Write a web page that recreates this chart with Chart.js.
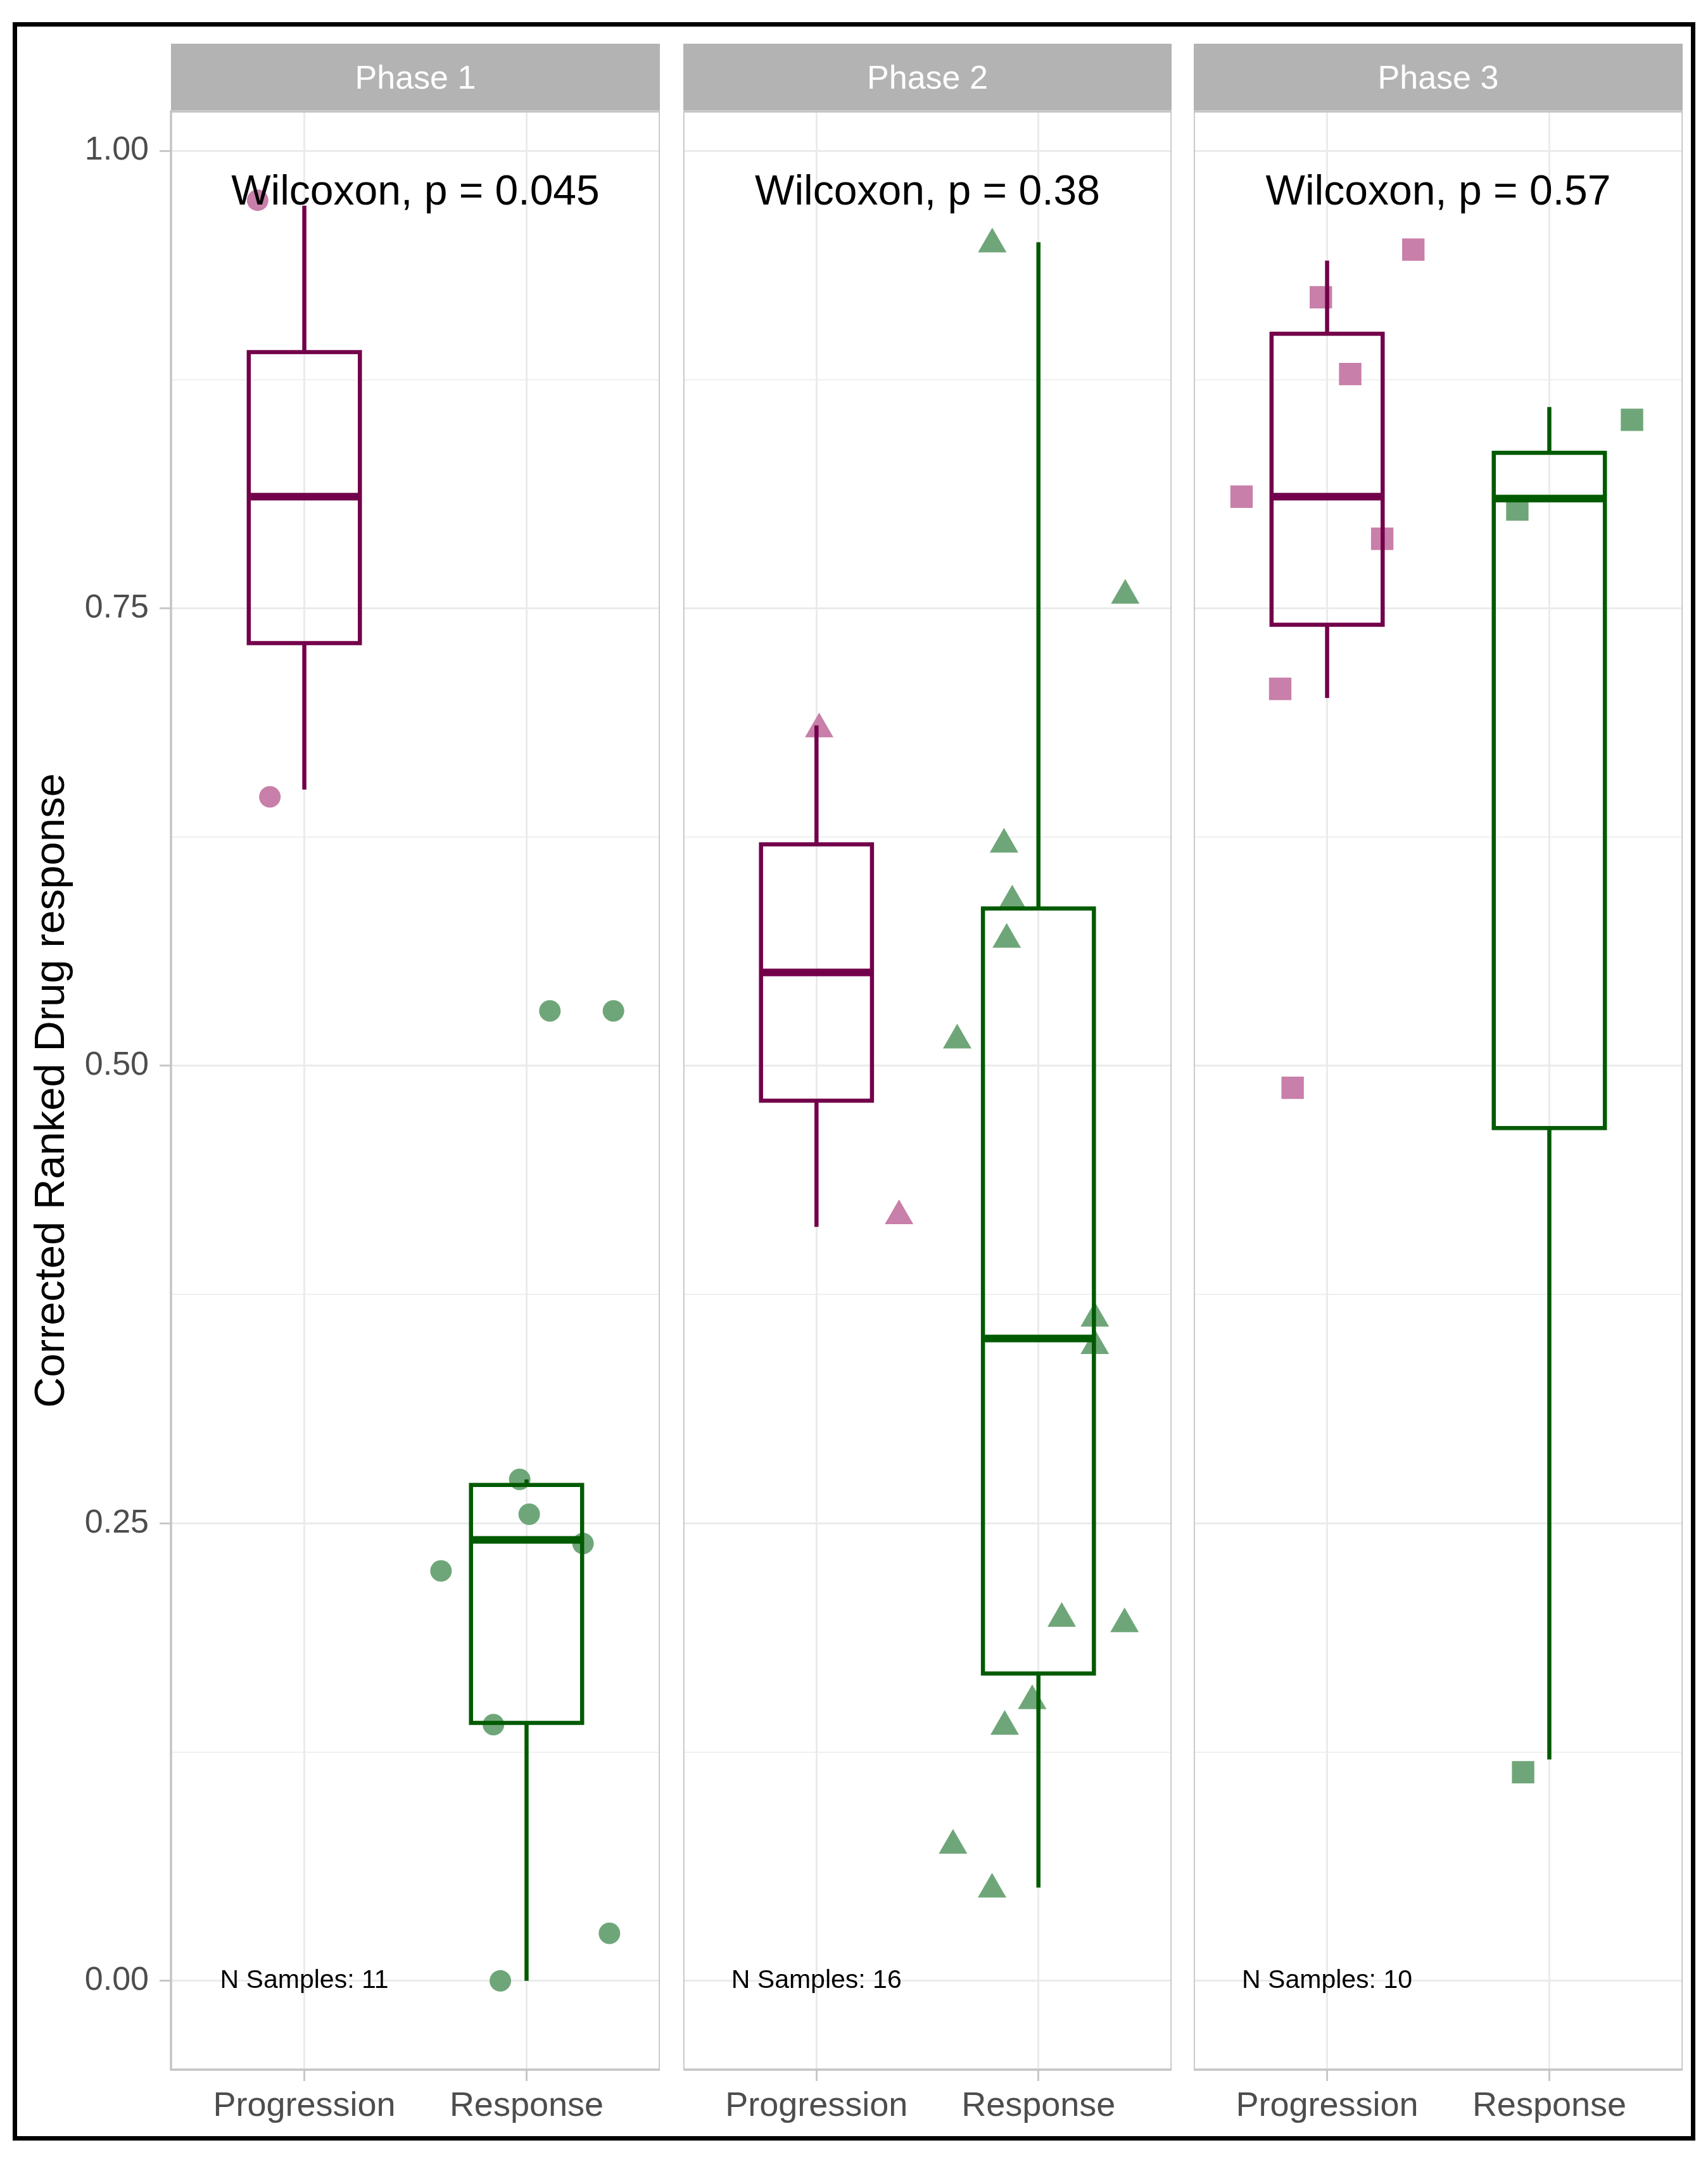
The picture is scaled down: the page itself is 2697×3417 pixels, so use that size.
<!DOCTYPE html>
<html lang="en">
<head>
  <meta charset="UTF-8" />
  <title>Corrected Ranked Drug response by Phase</title>
  <script src="https://cdn.jsdelivr.net/npm/chart.js"></script>
  <style>
    body { margin: 0; background: #fff; }
    #page { position: relative; width: 2697px; height: 3417px; background: #fff; overflow: hidden; }
    #frame { position: absolute; left: 20px; top: 35px; width: 2657px; height: 3345px; box-sizing: border-box; border: 7px solid #000; }
    canvas { position: absolute; top: 69px; }
    #panel1 { left: 30px; }
    #panel2 { left: 1079px; }
    #panel3 { left: 1885px; }
  </style>
</head>
<body>
<div id="page">
  <div id="frame"></div>
  <canvas id="panel1" width="1012" height="3299"></canvas>
  <canvas id="panel2" width="771" height="3299"></canvas>
  <canvas id="panel3" width="772" height="3299"></canvas>
</div>

<script>
  const FONT = '"Liberation Sans", Arial, Helvetica, sans-serif';

  const phases = ["Phase 1", "Phase 2", "Phase 3"];
  const groups = ["Progression", "Response"];
  const pValues = ["0.045", "0.38", "0.57"];
  const nSamples = [11, 16, 10];

  // y axis ticks
  const yMajorTicks = [0, 0.25, 0.5, 0.75, 1];
  const yMinorTicks = [0.125, 0.375, 0.625, 0.875];
  const yTickLabels = ["0.00", "0.25", "0.50", "0.75", "1.00"];

  // boxplot stats per phase: [lower whisker, Q1, median, Q3, upper whisker]
  const progressionBox = [
    [0.651, 0.731, 0.811, 0.890, 0.970],
    [0.412, 0.481, 0.551, 0.621, 0.686],
    [0.701, 0.741, 0.811, 0.900, 0.940]
  ];
  const responseBox = [
    [0.000, 0.141, 0.241, 0.271, 0.274],
    [0.051, 0.168, 0.351, 0.586, 0.950],
    [0.121, 0.466, 0.810, 0.835, 0.860]
  ];

  // jittered samples: x = group position + jitter, y = value
  const progressionX = [
    [0.790, 0.845],
    [1.012, 1.372],
    [1.388, 0.972, 1.104, 0.615, 1.248, 0.789, 0.845]
  ];
  const progressionY = [
    [0.973, 0.647],
    [0.684, 0.418],
    [0.946, 0.920, 0.878, 0.811, 0.788, 0.706, 0.488]
  ];
  const responseX = [
    [1.615, 1.969, 2.012, 1.851, 1.882, 2.105, 2.391, 2.254, 2.373],
    [1.792, 2.391, 1.845, 1.882, 1.857, 1.634, 2.254, 2.254, 2.105, 2.388, 1.972, 1.848, 1.615, 1.791],
    [2.372, 1.856, 1.882]
  ];
  const responseY = [
    [0.224, 0.274, 0.255, 0.140, 0.000, 0.530, 0.530, 0.239, 0.026],
    [0.949, 0.757, 0.621, 0.590, 0.569, 0.514, 0.362, 0.347, 0.198, 0.195, 0.153, 0.139, 0.074, 0.050],
    [0.853, 0.804, 0.114]
  ];

  const progressionLine = "#73004a";
  const responseLine = "#005a00";
  const progressionFill = "#c87fa9";
  const responseFill = "#6fa679";
  const shapes = ["circle", "triangle", "rect"];
  const radii = [17, 26, 25];

  Chart.defaults.font.family = FONT;

  const isMajor = ctx => ctx.tick && yMajorTicks.includes(ctx.tick.value);

  // grey facet strip behind the title
  const stripPlugin = {
    id: "strip",
    beforeDraw(chart) {
      const { ctx, chartArea, titleBlock } = chart;
      ctx.save();
      ctx.fillStyle = "#b3b3b3";
      ctx.fillRect(chartArea.left, titleBlock.top, chartArea.right - chartArea.left, titleBlock.bottom - titleBlock.top - 2);
      ctx.restore();
    }
  };

  // panel border + annotations
  const notesPlugin = {
    id: "notes",
    afterDraw(chart, args, opts) {
      const { ctx, chartArea, scales: { x, y } } = chart;
      ctx.save();
      ctx.strokeStyle = "#c4c4c4";
      ctx.lineWidth = 3.5;
      ctx.strokeRect(chartArea.left, chartArea.top, chartArea.right - chartArea.left, chartArea.bottom - chartArea.top);

      ctx.fillStyle = "#000";
      ctx.textAlign = "center";
      ctx.textBaseline = "middle";
      ctx.font = "66px " + FONT;
      ctx.fillText("Wilcoxon, p = " + opts.p, x.getPixelForValue(1.5), y.getPixelForValue(0.977));
      ctx.font = "41px " + FONT;
      ctx.fillText("N Samples: " + opts.n, x.getPixelForValue(1), y.getPixelForValue(0));
      ctx.restore();
    }
  };

  function boxDatasets(stats, centre, colour) {
    const [lo, q1, med, q3, hi] = stats;
    const h = 0.25;
    const line = (pts, width) => ({
      data: pts.map(([x, y]) => ({ x, y })),
      showLine: true,
      pointRadius: 0,
      borderColor: colour,
      borderWidth: width,
      borderJoinStyle: "miter",
      borderCapStyle: "butt",
      order: 1
    });
    return [
      line([[centre, q3], [centre, hi]], 6.5),
      line([[centre, lo], [centre, q1]], 6.5),
      line([[centre - h, q1], [centre + h, q1], [centre + h, q3], [centre - h, q3], [centre - h, q1], [centre + h, q1]], 6.5),
      line([[centre - h, med], [centre + h, med]], 12)
    ];
  }

  function buildPanel(i, canvasId) {
    const first = i === 0;
    const datasets = [
      {
        data: progressionX[i].map((x, k) => ({ x, y: progressionY[i][k] })),
        pointStyle: shapes[i],
        pointRadius: radii[i],
        pointBackgroundColor: progressionFill,
        pointBorderWidth: 0,
        order: 2
      },
      {
        data: responseX[i].map((x, k) => ({ x, y: responseY[i][k] })),
        pointStyle: shapes[i],
        pointRadius: radii[i],
        pointBackgroundColor: responseFill,
        pointBorderWidth: 0,
        order: 2
      },
      ...boxDatasets(progressionBox[i], 1, progressionLine),
      ...boxDatasets(responseBox[i], 2, responseLine)
    ];

    new Chart(document.getElementById(canvasId), {
      type: "scatter",
      data: { datasets },
      options: {
        responsive: false,
        animation: false,
        events: [],
        layout: { padding: 0, autoPadding: false },
        plugins: {
          legend: { display: false },
          tooltip: { enabled: false },
          title: {
            display: true,
            text: phases[i],
            fullSize: false,
            color: "#ffffff",
            font: { size: 52, weight: "normal" },
            padding: { top: 25.3, bottom: 19.3 }
          },
          notes: { p: pValues[i], n: nSamples[i] }
        },
        scales: {
          x: {
            type: "linear",
            min: 0.4,
            max: 2.6,
            afterBuildTicks: s => { s.ticks = groups.map((g, k) => ({ value: k + 1 })); },
            afterFit: s => { s.height = 100; s.paddingLeft = 0; s.paddingRight = 0; },
            ticks: {
              callback: v => groups[v - 1],
              color: "#4d4d4d",
              font: { size: 54 },
              padding: 8,
              maxRotation: 0,
              autoSkip: false
            },
            grid: { color: "#ebebeb", lineWidth: 3, tickLength: 18, tickWidth: 3, tickColor: "#c8c8c8" },
            border: { display: false }
          },
          y: {
            type: "linear",
            min: -0.0485,
            max: 1.0215,
            afterBuildTicks: s => {
              s.ticks = yMajorTicks.concat(yMinorTicks).sort((a, b) => a - b).map(v => ({ value: v }));
            },
            afterFit: s => { s.width = first ? 240 : 0; },
            ticks: {
              display: first,
              callback: v => { const k = yMajorTicks.indexOf(v); return k < 0 ? "" : yTickLabels[k]; },
              color: "#4d4d4d",
              font: { size: 52 },
              padding: 17,
              autoSkip: false
            },
            grid: {
              color: "#ebebeb",
              lineWidth: ctx => isMajor(ctx) ? 3 : 1.6,
              drawTicks: first,
              tickLength: 18,
              tickWidth: 3,
              tickColor: ctx => isMajor(ctx) ? "#c8c8c8" : "rgba(0,0,0,0)"
            },
            border: { display: false },
            title: {
              display: first,
              text: "Corrected Ranked Drug response",
              color: "#000",
              font: { size: 67 },
              padding: { top: 12, bottom: 0 }
            }
          }
        }
      },
      plugins: [stripPlugin, notesPlugin]
    });
  }

  buildPanel(0, "panel1");
  buildPanel(1, "panel2");
  buildPanel(2, "panel3");
</script>
</body>
</html>
